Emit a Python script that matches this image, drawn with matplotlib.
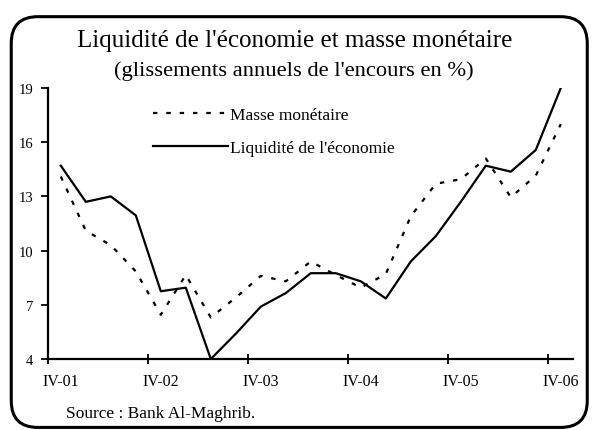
import matplotlib
matplotlib.use("Agg")
import matplotlib.pyplot as plt
from matplotlib.patches import FancyBboxPatch
import numpy as np

plt.rcParams['font.family'] = ['Liberation Serif', 'DejaVu Serif']

# Quarters IV-01 .. IV-06 (21 points)
quarters = ['IV-01', 'I-02', 'II-02', 'III-02', 'IV-02', 'I-03', 'II-03', 'III-03',
            'IV-03', 'I-04', 'II-04', 'III-04', 'IV-04', 'I-05', 'II-05', 'III-05',
            'IV-05', 'I-06', 'II-06', 'III-06', 'IV-06']
masse_monetaire = [14.1, 11.1, 10.3, 8.85, 6.45, 8.65, 6.3, 7.4, 8.6, 8.3, 9.4,
                   8.65, 7.95, 8.7, 11.9, 13.7, 13.95, 15.1, 12.95, 14.15, 17.0]
liquidite = [14.7, 12.7, 13.0, 11.95, 7.75, 7.95, 4.0, 5.4, 6.9, 7.65, 8.75,
             8.75, 8.3, 7.35, 9.4, 10.8, 12.7, 14.7, 14.37, 15.57, 19.0]
yticks = [4, 7, 10, 13, 16, 19]

fig = plt.figure(figsize=(5.92, 4.31), dpi=100)

# rounded frame around the whole chart
frame = FancyBboxPatch((0.019, 0.006), 0.973, 0.953,
                       boxstyle="round,pad=0,rounding_size=0.045",
                       transform=fig.transFigure, fill=False,
                       edgecolor='black', linewidth=2.2, mutation_aspect=592 / 431)
fig.patches.append(frame)

ax = fig.add_axes([0.0816, 0.1647, 0.8868, 0.6288])
x = np.arange(len(quarters))
ax.plot(x, masse_monetaire, color='black', lw=1.6, linestyle=(0, (2, 4)),
        label='Masse monétaire')
ax.plot(x, liquidite, color='black', lw=1.6, label="Liquidité de l'économie")

ax.set_xlim(-0.5, len(quarters) - 0.5)
ax.set_ylim(4, 19)
ax.set_yticks(yticks)
ax.set_yticklabels([str(v) for v in yticks], fontsize=10.5)

# tick marks between categories, labels on every fourth quarter
ax.set_xticks(np.arange(-0.5, len(quarters), 4))
ax.set_xticklabels([])
ax.set_xticks(x[::4], minor=True)
ax.set_xticklabels(quarters[::4], minor=True, fontsize=11.5)
ax.tick_params(axis='x', which='major', direction='inout', length=7, width=1.3)
ax.tick_params(axis='x', which='minor', length=0, pad=10)
ax.tick_params(axis='y', direction='out', length=5, width=1.3, pad=6)

for s in ['top', 'right']:
    ax.spines[s].set_visible(False)
for s in ['left', 'bottom']:
    ax.spines[s].set_linewidth(1.6)

ax.legend(loc='upper left', bbox_to_anchor=(0.187, 0.955), frameon=False,
          fontsize=12.5, handlelength=4.3, handletextpad=0.1, labelspacing=0.95,
          borderaxespad=0)

fig.text(0.497, 0.906, "Liquidité de l'économie et masse monétaire",
         ha='center', va='center', fontsize=18)
fig.text(0.497, 0.836, "(glissements annuels de l'encours en %)",
         ha='center', va='center', fontsize=16.2)
fig.text(0.111, 0.04, "Source : Bank Al-Maghrib.", ha='left', va='center',
         fontsize=12.5)

fig.savefig('out.png', dpi=100)
